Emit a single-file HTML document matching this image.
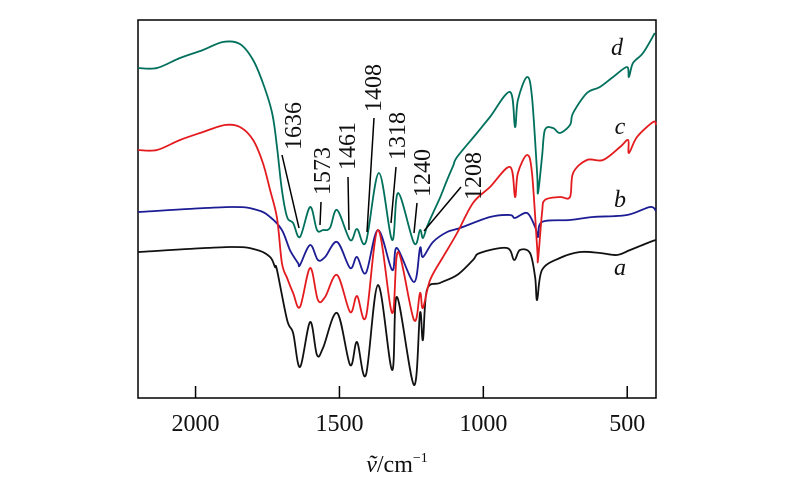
<!DOCTYPE html>
<html><head><meta charset="utf-8"><style>
html,body{margin:0;padding:0;background:#fff}
svg{display:block;font-family:"Liberation Serif",serif}
</style></head><body>
<svg id="chart" width="800" height="493" viewBox="0 0 800 493" xmlns="http://www.w3.org/2000/svg">
<g id="plot"></g>
</svg>
<script>
const xTicks=[2000,1500,1000,500];
const xTickLabels=["2000","1500","1000","500"];
const dWn=[2200,2134,2054,1974,1905,1846,1800,1766,1734,1717,1700,1682,1661,1637,1602,1578,1557,1533,1508,1463,1439,1408,1363,1317,1296,1241,1220,1210,1196,1175,1151,1126,1105,1091,1022,977,907,890,880,848,831,813,810,796,786,758,734,699,688,640,595,549,501,494,480,445,404];
const dT=[330,330,340,348,356,354,338,315,285,251,208,181,175,161,191,168,168,170,188,158,169,156,225,158,205,155,168,160,171,185,200,218,232,241,265,281,306,271,298,321,301,225,205,241,268,270,265,273,285,305,311,321,331,321,335,345,365];
const cWn=[2200,2134,2054,1974,1898,1846,1800,1766,1741,1717,1700,1682,1661,1637,1602,1575,1550,1508,1463,1439,1408,1366,1317,1296,1241,1220,1210,1185,1140,1091,1036,977,907,890,880,848,831,813,810,796,786,734,699,688,640,584,525,497,494,466,410,400];
const cT=[248,248,258,266,273,271,258,235,208,180,135,120,105,91,130,98,101,123,86,102,81,168,85,146,78,105,90,118,141,165,195,211,231,201,225,243,225,151,138,185,198,201,201,225,238,238,251,258,245,261,276,273];
const bWn=[2200,1880,1786,1741,1700,1672,1644,1637,1602,1575,1550,1508,1463,1439,1408,1366,1317,1300,1241,1220,1210,1175,1126,1081,977,907,890,848,820,810,796,699,619,501,421,400];
const bT=[186,191,188,181,168,148,135,133,153,138,141,156,130,141,125,168,128,150,116,150,141,156,166,170,181,183,180,185,171,161,176,178,181,183,191,187];
const aWn=[2200,1880,1786,1741,1724,1717,1682,1661,1637,1602,1578,1557,1508,1463,1439,1408,1366,1317,1300,1241,1220,1210,1196,1151,1091,1036,1012,918,893,873,838,820,813,796,734,664,595,536,490,421,400];
const aT=[146,151,148,141,131,128,78,65,31,76,43,50,85,33,56,23,113,28,101,13,85,58,108,115,123,138,145,150,138,148,145,121,98,128,140,146,145,143,148,156,158];
const peakLabels=["1636","1573","1461","1408","1318","1240","1208"];
const NS="http://www.w3.org/2000/svg";
const L=138,R=656,T=20,B=398;
const xs=v=>L+(2200-v)*(R-L)/1800;
const ys=t=>B-t;
const g=document.getElementById('plot');
function el(tag,attrs,parent){const e=document.createElementNS(NS,tag);for(const k in attrs)e.setAttribute(k,attrs[k]);(parent||g).appendChild(e);return e;}
function smooth(pts){
  let d='M'+pts[0][0].toFixed(1)+' '+pts[0][1].toFixed(1);
  for(let i=0;i<pts.length-1;i++){
    const p0=pts[Math.max(0,i-1)],p1=pts[i],p2=pts[i+1],p3=pts[Math.min(pts.length-1,i+2)];
    const k=1/6;
    const c1=[p1[0]+(p2[0]-p0[0])*k,p1[1]+(p2[1]-p0[1])*k];
    const c2=[p2[0]-(p3[0]-p1[0])*k,p2[1]-(p3[1]-p1[1])*k];
    d+=' C'+c1[0].toFixed(1)+' '+c1[1].toFixed(1)+' '+c2[0].toFixed(1)+' '+c2[1].toFixed(1)+' '+p2[0].toFixed(1)+' '+p2[1].toFixed(1);
  }
  return d;
}
const fr=el('rect',{x:L,y:T,width:R-L,height:B-T,fill:'none',stroke:'#000','stroke-width':1.5});


xTicks.forEach((v,i)=>{
  const t=el('line',{x1:xs(v),x2:xs(v),y1:B,y2:B-12,stroke:'#000','stroke-width':1.5});
  
  
  const lb=el('text',{x:xs(v),y:431,'text-anchor':'middle','font-size':24,fill:'#111'});
  lb.textContent=xTickLabels[i];
  
  
});
const series=[[aWn,aT,'#111','a'],[bWn,bT,'#1c1c94','b'],[cWn,cT,'#e31b1f','c'],[dWn,dT,'#00705c','d']];
series.forEach(s=>{
  const pts=s[0].map((v,i)=>[xs(v),ys(s[1][i])]);
  const p=el('path',{d:smooth(pts),fill:'none',stroke:s[2],'stroke-width':1.8,'stroke-linejoin':'round'});
  
  
});
const curveLabels=[['d',617,55],['c',620,134],['b',620,207],['a',620,275]];
curveLabels.forEach(c=>{
  const t=el('text',{x:c[1],y:c[2],'font-size':24,'font-style':'italic','text-anchor':'middle',fill:'#111'});
  t.textContent=c[0];
  
  
});
const annPos=[[293,150,282,155,299,228],[322,195,321,202,320,225],[347,170,348,177,349,230],[373,112,374,118,367,232],[397,160,396,167,391,223],[422,197,417,203,414,233],[473,200,461,187,424,231]];
annPos.forEach((a,i)=>{
  const ln=el('line',{x1:a[2],y1:a[3],x2:a[4],y2:a[5],stroke:'#000','stroke-width':1.5});
  
  
  const t=el('text',{x:0,y:0,'font-size':24,fill:'#111',transform:'translate('+(a[0]+8)+','+a[1]+') rotate(-90)'});
  t.textContent=peakLabels[i];
  
  
});
const xt=el('text',{x:397,y:472,'text-anchor':'middle','font-size':24,fill:'#111'});
xt.innerHTML='<tspan font-style="italic">ṽ</tspan>/cm<tspan font-size="14" dy="-10">−1</tspan>';


</script>
</body></html>
